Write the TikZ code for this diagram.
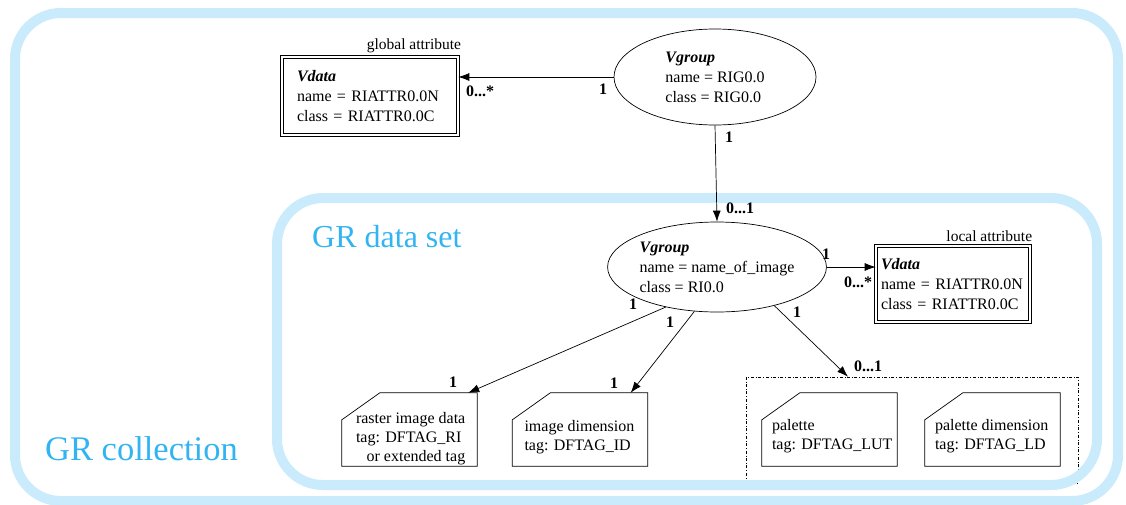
\documentclass[tikz,border=0pt]{standalone}
\usepackage{fontspec}
\setmainfont{Liberation Serif}
\usetikzlibrary{arrows.meta,positioning,shapes.geometric,calc}
\definecolor{GrBand}{HTML}{C9EBFC}
\definecolor{GrText}{HTML}{33B4F2}
\newcommand\cutframe[1]{%
  \draw[line width=0.7pt] ($(#1.north west)+(38pt,0pt)$) -- (#1.north east)
    -- (#1.south east) -- (#1.south west) -- ($(#1.north west)+(0pt,-27pt)$) -- cycle;}

\begin{document}
\begin{tikzpicture}[x=1pt,y=-1pt,>={Latex[length=11pt,width=8pt]}]
  \tikzset{band/.style={draw=GrBand,line width=10pt,rounded corners=46pt},
    setname/.style={text=GrText,inner sep=0pt,font=\fontsize{32}{36}\selectfont},
    vgroup/.style={ellipse,draw,line width=0.7pt,minimum width=202pt,minimum height=96pt,
      inner sep=0pt,align=left,font=\fontsize{16}{20}\selectfont},
    vdata/.style={draw,double,double distance=2pt,line width=0.6pt,minimum height=78pt,
      inner sep=0pt,align=left,font=\fontsize{16}{20}\selectfont},
    cutbox/.style={minimum width=135pt,minimum height=73pt,inner sep=0pt},
    cuttext/.style={inner sep=0pt,font=\fontsize{16}{19}\selectfont},
    attrname/.style={inner sep=0pt,font=\fontsize{15.5}{18}\selectfont},
    mult/.style={inner sep=0pt,font=\bfseries\fontsize{16}{18}\selectfont},
    link/.style={->,line width=0.7pt}}
  \useasboundingbox (0,0) rectangle (1126,504);
  % palette group (cut by the frames below)
  \node[draw,dash dot,line width=0.6pt,minimum width=332pt,minimum height=106pt,inner sep=0pt]
    (palgroup) at (912,430) {};
  % collection and data set frames
  \draw[band] (15,13) rectangle (1118,501);
  \draw[band] (277,198) rectangle (1097,485);
  \node[setname,anchor=base west] (dsname) at (312,247) {GR data set};
  \node[setname,anchor=base west,font=\fontsize{34.5}{38}\selectfont] (colname) at (45,460) {GR collection};
  % vgroups
  \node[vgroup] (rig) at (715,77) {\textbf{\textit{Vgroup}}\\name = RIG0.0\\class = RIG0.0};
  \node[vgroup,minimum width=204pt,minimum height=90pt] (ri) at (717,267)
    {\textbf{\textit{Vgroup}}\\name = name\_of\_image\\class = RI0.0};
  % attributes
  \node[vdata,minimum width=176pt,text width=146pt] (gattr) at (370,96)
    {\textbf{\textit{Vdata}}\\name = RIATTR0.0N\\class = RIATTR0.0C};
  \node[attrname,anchor=south east] (gattrname) at ([xshift=3pt,yshift=4pt]gattr.north east) {global attribute};
  \node[vdata,minimum width=154pt,minimum height=76pt,text width=144pt] (lattr) at (953,284)
    {\textbf{\textit{Vdata}}\\name = RIATTR0.0N\\class = RIATTR0.0C};
  \node[attrname,anchor=south east] (lattrname) at ([xshift=2pt,yshift=4pt]lattr.north east) {local attribute};
  % tagged objects
  \node[cutbox] (raster) at (409.5,429.5) {};
  \node[cutbox] (imgdim) at (580,429.5) {};
  \node[cutbox] (pal) at (829.5,429.5) {};
  \node[cutbox] (paldim) at (992.5,429.5) {};
  \foreach \b in {raster,imgdim,pal,paldim} {\cutframe{\b}}
  \node[cuttext,anchor=west] (rastertxt) at ([xshift=14pt,yshift=-9pt]raster.west)
    {\begin{tabular}{@{}l@{}}raster image data\\tag: DFTAG\_RI\\\hfill or extended tag\end{tabular}};
  \node[cuttext,anchor=west] (imgdimtxt) at ([xshift=12pt,yshift=-8pt]imgdim.west)
    {\begin{tabular}{@{}l@{}}image dimension\\tag: DFTAG\_ID\end{tabular}};
  \node[cuttext,anchor=west] (paltxt) at ([xshift=10pt,yshift=-7pt]pal.west)
    {\begin{tabular}{@{}l@{}}palette\\tag: DFTAG\_LUT\end{tabular}};
  \node[cuttext,anchor=west] (paldimtxt) at ([xshift=10pt,yshift=-7pt]paldim.west)
    {\begin{tabular}{@{}l@{}}palette dimension\\tag: DFTAG\_LD\end{tabular}};
  % connectors
  \draw[link] (rig.west) -- (gattr.east |- rig.west);
  \draw[link] (rig.south) -- (ri.north);
  \draw[link] (ri.east) -- (lattr.west |- ri.east);
  \draw[link] (ri.218) -- ([xshift=-9pt]raster.north east);
  \draw[link] (ri.243) -- ([xshift=-17pt]imgdim.north east);
  \draw[link] (ri.326) -- ([xshift=-64pt]palgroup.north);
  % multiplicities
  \node[mult] (m1) at (603,89) {1};
  \node[mult,anchor=west] (m2) at (466,91) {0...*};
  \node[mult] (m3) at (729,137) {1};
  \node[mult,anchor=west] (m4) at (726,208) {0...1};
  \node[mult] (m5) at (826,254) {1};
  \node[mult,anchor=west] (m6) at (844,282) {0...*};
  \node[mult] (m7) at (633,304) {1};
  \node[mult] (m8) at (453,382) {1};
  \node[mult] (m9) at (670,322) {1};
  \node[mult] (m10) at (614,383) {1};
  \node[mult] (m11) at (797,312) {1};
  \node[mult,anchor=west] (m12) at (854,366) {0...1};
\end{tikzpicture}
\end{document}
